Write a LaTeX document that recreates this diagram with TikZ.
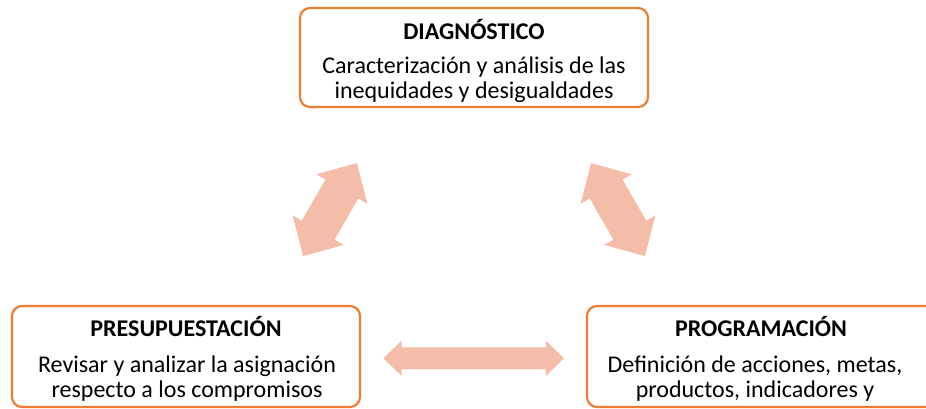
\documentclass[tikz,border=0pt]{standalone}
\usepackage{fontspec}
\setmainfont{Carlito}
\usetikzlibrary{positioning}

\definecolor{boxorange}{HTML}{ED7D31}
\definecolor{arrowpink}{HTML}{F4BDA9}

\tikzset{
  stagebox/.style={draw=boxorange, line width=2.2pt, rounded corners=10pt, minimum width=348pt, inner sep=0pt},
  stagetitle/.style={font=\fontsize{24}{25}\selectfont\bfseries, anchor=base, inner sep=0pt},
  stagetext/.style={font=\fontsize{24}{25}\selectfont, align=center, anchor=base, inner sep=0pt},
}

% fat double arrow: half length, half shaft, half head, head length
\newcommand{\fatarrow}[4]{%
  \fill[arrowpink] (-#1,0) -- ++(#4,#3) -- ++(0,-#3+#2) -- (#1-#4,#2) -- ++(0,#3-#2) -- (#1,0)
    -- ++(-#4,-#3) -- ++(0,#3-#2) -- (-#1+#4,-#2) -- ++(0,-#3+#2) -- cycle;}

\begin{document}
\begin{tikzpicture}[x=1pt,y=-1pt]
        \useasboundingbox (0,0) rectangle (926,409);
        % Draw the three boxes
        \node[stagebox, minimum height=99pt] (diag) at (474,57.5) {};
        \node[stagebox, minimum height=101pt] (presu) at (186,356.5) {};
        \node[stagebox, minimum height=101pt] (prog) at (761,356.5) {};
        % Texts of the boxes
        \begin{scope}
            \clip (diag.north west) rectangle ([yshift=5pt]diag.south east);
            \node[stagetitle] (diagT) at (474,40) {DIAGNÓSTICO};
            \node[stagetext] (diagB) at (474,98.3) {Caracterización y análisis de las\\inequidades y desigualdades};
        \end{scope}
        \node[stagetitle] (presuT) at (186,336.7) {PRESUPUESTACIÓN};
        \node[stagetext] (presuB) at (187,397.5) {Revisar y analizar la asignación\\respecto a los compromisos};
        \node[stagetitle] (progT) at (761,336.7) {PROGRAMACIÓN};
        \node[stagetext] (progB) at (755,397.5) {Definición de acciones, metas,\\productos, indicadores y};
        % Draw the double arrows between the boxes
        \coordinate (arrL) at (330,209.6);
        \coordinate (arrR) at (618,209.6);
        \coordinate (arrB) at (473.7,358.3);
        \begin{scope}[shift={(arrL)}, rotate=60]
            \fatarrow{53.75}{19}{29.5}{30}
        \end{scope}
        \begin{scope}[shift={(arrR)}, rotate=-60]
            \fatarrow{53.75}{19}{29.5}{30}
        \end{scope}
        \begin{scope}[shift={(arrB)}]
            \fatarrow{90.3}{11}{17.7}{18.2}
        \end{scope}
\end{tikzpicture}
\end{document}
